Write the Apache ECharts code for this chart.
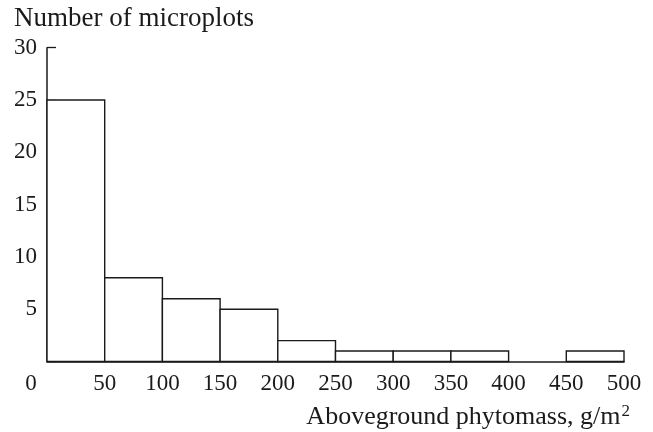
<!DOCTYPE html>
<html><head><meta charset="utf-8">
<script src="https://cdn.jsdelivr.net/npm/echarts@6/dist/echarts.min.js"></script>
<style>html,body{margin:0;padding:0;background:#fff}#c{width:653px;height:432px}</style>
</head><body><div id="c"></div>
<script>
const binStarts = [0, 50, 100, 150, 200, 250, 300, 350, 400, 450];
const binWidth = 50;
const counts = [25, 8, 6, 5, 2, 1, 1, 1, 0, 1];
const yTitle = 'Number of microplots';
const xTitle = 'Aboveground phytomass, g/m';
const FONT = 'Liberation Serif';
const INK = '#1a1a1a';

const chart = echarts.init(document.getElementById('c'));
const data = binStarts.map((s, i) => [s, s + binWidth, counts[i]]);
chart.setOption({
  animation: false,
  backgroundColor: '#fff',
  title: [
    { text: yTitle, left: 9, top: 0, textStyle: { fontFamily: FONT, fontSize: 27, fontWeight: 'normal', color: INK } },
    { text: xTitle + '{s|2}', right: 18, top: 398,
      textStyle: { fontFamily: FONT, fontSize: 26, fontWeight: 'normal', color: INK,
        rich: { s: { fontFamily: FONT, fontSize: 17, verticalAlign: 'top', padding: [0,0,12,1], color: INK } } } }
  ],
  grid: { left: 47, right: 29, top: 47.7, bottom: 70.5 },
  xAxis: {
    type: 'value', min: 0, max: 500, interval: 50,
    axisLine: { show: true, lineStyle: { color: INK, width: 1.5 } },
    axisTick: { show: false },
    splitLine: { show: false },
    axisLabel: { margin: 11, color: INK, fontFamily: FONT, fontSize: 23,
      formatter: v => v === 0 ? '{z|0}' : String(v),
      rich: { z: { fontFamily: FONT, fontSize: 23, color: INK, padding: [0, 32, 0, 0] } } }
  },
  yAxis: {
    type: 'value', min: 0, max: 30, interval: 5,
    axisLine: { show: true, lineStyle: { color: INK, width: 1.5 } },
    axisTick: { show: true, inside: true, length: 9, lineStyle: { color: INK, width: 1.3 } },
    splitLine: { show: false },
    axisLabel: { margin: 10, color: INK, fontFamily: FONT, fontSize: 23,
      formatter: v => v === 0 ? '' : String(v) }
  },
  series: [{
    type: 'custom',
    data: data,
    encode: { x: [0, 1], y: 2 },
    renderItem: (params, api) => {
      const v = api.value(2);
      if (!v) return null;
      const p0 = api.coord([api.value(0), 0]);
      const p1 = api.coord([api.value(1), v]);
      return {
        type: 'rect',
        shape: { x: p0[0], y: p1[1], width: p1[0] - p0[0], height: p0[1] - p1[1] },
        style: { fill: '#fff', stroke: INK, lineWidth: 1.4 }
      };
    }
  }]
});
</script></body></html>
